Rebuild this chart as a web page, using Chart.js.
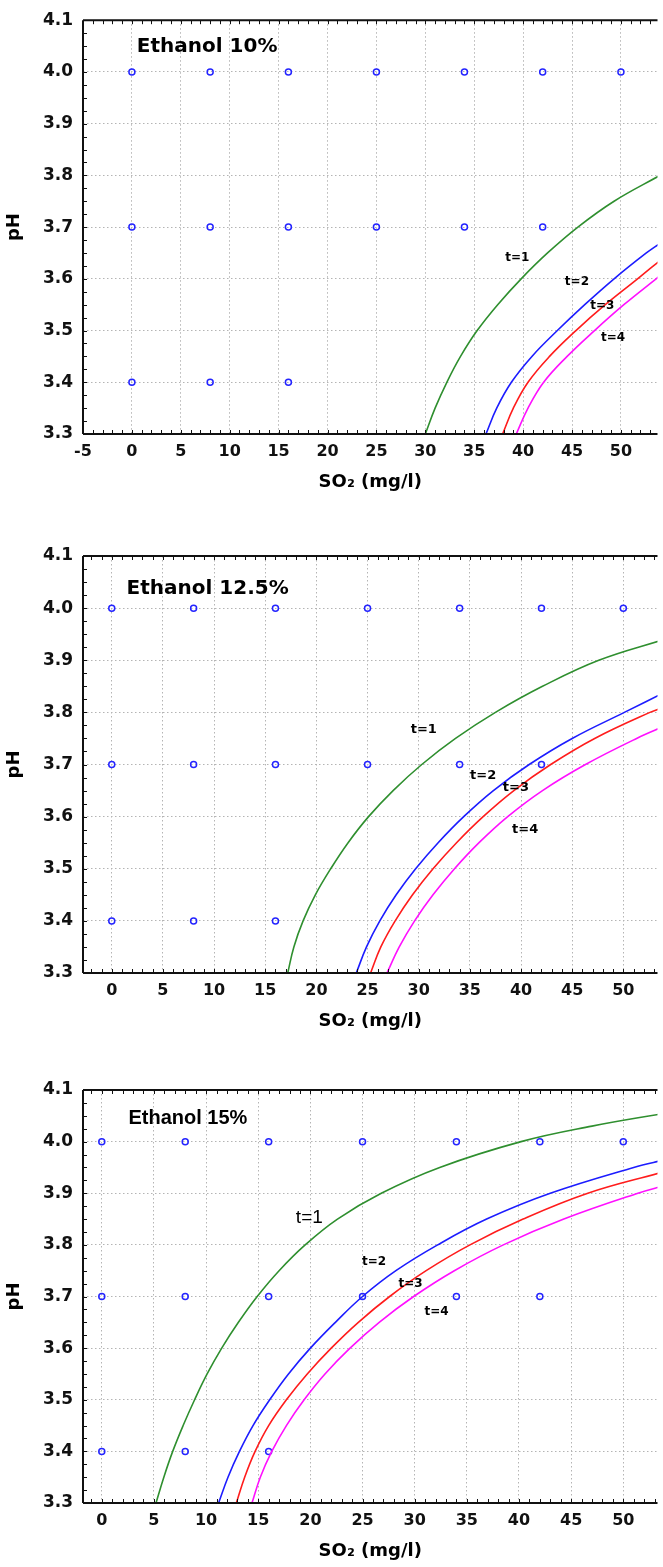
<!DOCTYPE html>
<html>
<head>
<meta charset="utf-8">
<script src="https://cdn.jsdelivr.net/npm/chart.js@4.4.1/dist/chart.umd.min.js"></script>
<style>
  html, body { margin: 0; padding: 0; background: #fff; }
  body { width: 663px; height: 1567px; position: relative; overflow: hidden; }
  canvas { position: absolute; left: 0; }
</style>
</head>
<body>
<canvas id="c10" width="663" height="520" style="top:0px"></canvas>
<canvas id="c125" width="663" height="530" style="top:520px"></canvas>
<canvas id="c15" width="663" height="517" style="top:1050px"></canvas>
<script>
// ---- Data -----------------------------------------------------------------
const PH_TICKS = [3.3, 3.4, 3.5, 3.6, 3.7, 3.8, 3.9, 4.0, 4.1];
const SO2_TICKS_10 = [-5, 0, 5, 10, 15, 20, 25, 30, 35, 40, 45, 50];
const SO2_TICKS = [0, 5, 10, 15, 20, 25, 30, 35, 40, 45, 50];

// experimental design points (same in the three panels)
const DESIGN_SO2 = [0, 8, 16, 25, 34, 42, 50, 0, 8, 16, 25, 34, 42, 0, 8, 16];
const DESIGN_PH = [4.0, 4.0, 4.0, 4.0, 4.0, 4.0, 4.0, 3.7, 3.7, 3.7, 3.7, 3.7, 3.7, 3.4, 3.4, 3.4];

const CURVE_NAMES = ["t=1", "t=2", "t=3", "t=4"];

// Ethanol 10%
const E10_T1_PH = [3.30, 3.35, 3.40, 3.45, 3.50, 3.55, 3.60, 3.65, 3.70, 3.75, 3.80];
const E10_T1_SO2 = [30.0, 31.0, 32.2, 33.6, 35.3, 37.4, 39.8, 42.5, 45.6, 49.3, 54.0];
const E10_T2_PH = [3.30, 3.35, 3.40, 3.45, 3.50, 3.55, 3.60, 3.65, 3.67];
const E10_T2_SO2 = [36.2, 37.3, 38.8, 40.9, 43.5, 46.3, 49.3, 52.6, 54.1];
const E10_T3_PH = [3.30, 3.35, 3.40, 3.45, 3.50, 3.55, 3.60, 3.64];
const E10_T3_SO2 = [37.9, 39.0, 40.5, 42.7, 45.4, 48.4, 51.7, 54.3];
const E10_T4_PH = [3.30, 3.35, 3.40, 3.45, 3.50, 3.55, 3.60, 3.61];
const E10_T4_SO2 = [39.3, 40.5, 42.1, 44.5, 47.3, 50.3, 53.6, 54.3];
const E10_LABEL_SO2 = [39.4, 45.5, 48.1, 49.2];
const E10_LABEL_PH = [3.640, 3.595, 3.547, 3.486];

// Ethanol 12.5%
const E125_T1_PH = [3.30, 3.35, 3.40, 3.45, 3.50, 3.55, 3.60, 3.65, 3.70, 3.75, 3.80, 3.85, 3.90, 3.94];
const E125_T1_SO2 = [17.2, 17.8, 18.7, 19.9, 21.4, 23.1, 25.1, 27.5, 30.3, 33.6, 37.5, 42.1, 47.6, 54.0];
const E125_T2_PH = [3.30, 3.35, 3.40, 3.45, 3.50, 3.55, 3.60, 3.65, 3.70, 3.75, 3.80, 3.84];
const E125_T2_SO2 = [23.9, 24.9, 26.2, 27.8, 29.7, 31.9, 34.4, 37.3, 40.8, 45.0, 50.1, 54.2];
const E125_T3_PH = [3.30, 3.35, 3.40, 3.45, 3.50, 3.55, 3.60, 3.65, 3.70, 3.75, 3.80, 3.81];
const E125_T3_SO2 = [25.3, 26.3, 27.7, 29.4, 31.4, 33.7, 36.3, 39.3, 42.9, 47.2, 52.6, 54.0];
const E125_T4_PH = [3.30, 3.35, 3.40, 3.45, 3.50, 3.55, 3.60, 3.65, 3.70, 3.75, 3.775];
const E125_T4_SO2 = [26.9, 28.1, 29.6, 31.4, 33.5, 35.9, 38.7, 42.1, 46.3, 51.3, 54.2];
const E125_LABEL_SO2 = [30.5, 36.3, 39.5, 40.4];
const E125_LABEL_PH = [3.766, 3.678, 3.655, 3.576];

// Ethanol 15%
const E15_T1_PH = [3.30, 3.35, 3.40, 3.45, 3.50, 3.55, 3.60, 3.65, 3.70, 3.75, 3.80, 3.85, 3.90, 3.95, 4.00, 4.03, 4.055];
const E15_T1_SO2 = [5.2, 5.95, 6.8, 7.8, 8.9, 10.1, 11.5, 13.1, 14.9, 17.0, 19.5, 22.6, 26.8, 32.4, 40.2, 47.0, 54.0];
const E15_T2_PH = [3.30, 3.35, 3.40, 3.45, 3.50, 3.55, 3.60, 3.65, 3.70, 3.75, 3.80, 3.85, 3.90, 3.95, 3.965];
const E15_T2_SO2 = [11.2, 12.1, 13.2, 14.5, 16.1, 17.9, 20.0, 22.4, 25.0, 28.2, 32.2, 36.9, 43.0, 51.0, 54.0];
const E15_T3_PH = [3.30, 3.35, 3.40, 3.45, 3.50, 3.55, 3.60, 3.65, 3.70, 3.75, 3.80, 3.85, 3.90, 3.94];
const E15_T3_SO2 = [12.9, 13.7, 14.7, 16.0, 17.7, 19.7, 22.0, 24.6, 27.6, 31.1, 35.3, 40.4, 46.6, 53.6];
const E15_T4_PH = [3.30, 3.35, 3.40, 3.45, 3.50, 3.55, 3.60, 3.65, 3.70, 3.75, 3.80, 3.85, 3.90, 3.915];
const E15_T4_SO2 = [14.4, 15.2, 16.3, 17.7, 19.4, 21.4, 23.8, 26.6, 29.9, 33.8, 38.5, 44.3, 51.4, 54.0];
const E15_LABEL_SO2 = [19.9, 26.1, 29.6, 32.1];
const E15_LABEL_PH = [3.852, 3.767, 3.725, 3.670];

// ---- Styles ---------------------------------------------------------------
const CURVE_COLORS = ["#2f8f2f", "#1c1cff", "#ff1c1c", "#ff10ff"];
const POINT_COLOR = "#2424ff";
const GRID_COLOR = "#b4b4b4";
const FONT = "'DejaVu Sans', sans-serif";
const FONT_NARROW = "'Liberation Sans', Arial, sans-serif";

const PANELS = [
  {
    id: "c10", height: 520, areaTop: 13, areaBottom: 434, min: -5, max: 53.74,
    ticks: SO2_TICKS_10,
    title: "Ethanol 10%", titleSO2: 0.5, titlePH: 4.049, titleFont: "bold 20px " + FONT,
    curves: [[E10_T1_SO2, E10_T1_PH], [E10_T2_SO2, E10_T2_PH], [E10_T3_SO2, E10_T3_PH], [E10_T4_SO2, E10_T4_PH]],
    labelSO2: E10_LABEL_SO2, labelPH: E10_LABEL_PH,
    labelFonts: ["bold 12px " + FONT, "bold 12px " + FONT, "bold 12px " + FONT, "bold 12px " + FONT],
  },
  {
    id: "c125", height: 530, areaTop: 36, areaBottom: 453, min: -2.81, max: 53.34,
    ticks: SO2_TICKS,
    title: "Ethanol 12.5%", titleSO2: 1.45, titlePH: 4.037, titleFont: "bold 20px " + FONT,
    curves: [[E125_T1_SO2, E125_T1_PH], [E125_T2_SO2, E125_T2_PH], [E125_T3_SO2, E125_T3_PH], [E125_T4_SO2, E125_T4_PH]],
    labelSO2: E125_LABEL_SO2, labelPH: E125_LABEL_PH,
    labelFonts: ["bold 13px " + FONT, "bold 13px " + FONT, "bold 13px " + FONT, "bold 13px " + FONT],
  },
  {
    id: "c15", height: 517, areaTop: 40, areaBottom: 453, min: -1.8, max: 53.28,
    ticks: SO2_TICKS,
    title: "Ethanol 15%", titleSO2: 2.56, titlePH: 4.044, titleFont: "bold 20px " + FONT_NARROW,
    curves: [[E15_T1_SO2, E15_T1_PH], [E15_T2_SO2, E15_T2_PH], [E15_T3_SO2, E15_T3_PH], [E15_T4_SO2, E15_T4_PH]],
    labelSO2: E15_LABEL_SO2, labelPH: E15_LABEL_PH,
    labelFonts: ["19px " + FONT_NARROW, "bold 12px " + FONT, "bold 12px " + FONT, "bold 12px " + FONT],
  },
];

// ---- Plugins --------------------------------------------------------------
// frame (left, bottom, top) with small inward ticks, like the original software
const framePlugin = {
  id: "frame",
  afterDraw(chart) {
    const { ctx, chartArea: a, scales } = chart;
    const xs = scales.x, ys = scales.y;
    ctx.save();
    ctx.strokeStyle = "#111";
    ctx.lineWidth = 1;
    ctx.beginPath();
    for (let v = Math.ceil(xs.min); v <= xs.max; v += 1) {
      const px = Math.round(xs.getPixelForValue(v)) + 0.5;
      ctx.moveTo(px, a.bottom); ctx.lineTo(px, a.bottom - 4);
      ctx.moveTo(px, a.top); ctx.lineTo(px, a.top + 4);
    }
    for (let i = 0; i <= 32; i++) {
      const py = Math.round(ys.getPixelForValue(ys.min + i * 0.025)) + 0.5;
      ctx.moveTo(a.left, py); ctx.lineTo(a.left + 4, py);
    }
    ctx.stroke();
    ctx.lineWidth = 2;
    ctx.beginPath();
    ctx.moveTo(a.left, a.top); ctx.lineTo(a.right, a.top);
    ctx.moveTo(a.left, a.top); ctx.lineTo(a.left, a.bottom);
    ctx.moveTo(a.left, a.bottom); ctx.lineTo(a.right, a.bottom);
    ctx.stroke();
    ctx.restore();
  },
};

// curve labels t=1..t=4 and the panel title
const textPlugin = {
  id: "panelText",
  afterDatasetsDraw(chart, args, opts) {
    const p = opts.panel;
    if (!p) return;
    const { ctx, scales } = chart;
    ctx.save();
    ctx.fillStyle = "#000";
    ctx.textBaseline = "middle";
    ctx.textAlign = "left";
    ctx.font = p.titleFont;
    ctx.fillText(p.title, scales.x.getPixelForValue(p.titleSO2), scales.y.getPixelForValue(p.titlePH));
    ctx.textAlign = "center";
    CURVE_NAMES.forEach((name, i) => {
      ctx.font = p.labelFonts[i];
      ctx.fillText(name, scales.x.getPixelForValue(p.labelSO2[i]), scales.y.getPixelForValue(p.labelPH[i]));
    });
    ctx.restore();
  },
};

// ---- Build ----------------------------------------------------------------
function makePanel(p) {
  const titleLine = 18 * 1.2;
  const padBottom = p.height - p.areaBottom - 48 - titleLine / 2;

  const datasets = p.curves.map(([so2, ph], i) => ({
    label: CURVE_NAMES[i],
    data: so2.map((x, k) => ({ x, y: ph[k] })),
    showLine: true,
    borderColor: CURVE_COLORS[i],
    borderWidth: 1.6,
    pointRadius: 0,
    tension: 0.4,
    fill: false,
  }));
  datasets.push({
    label: "design",
    data: DESIGN_SO2.map((x, k) => ({ x, y: DESIGN_PH[k] })),
    showLine: false,
    pointRadius: 3,
    pointBorderWidth: 1.5,
    pointBorderColor: POINT_COLOR,
    pointBackgroundColor: "rgba(255,255,255,0)",
  });

  return new Chart(document.getElementById(p.id), {
    type: "scatter",
    data: { datasets },
    plugins: [framePlugin, textPlugin],
    options: {
      responsive: false,
      animation: false,
      devicePixelRatio: 1,
      layout: { padding: { top: p.areaTop, left: 0, right: 0, bottom: 0 } },
      plugins: {
        legend: { display: false },
        tooltip: { enabled: false },
        panelText: { panel: p },
      },
      scales: {
        x: {
          type: "linear",
          min: p.min,
          max: p.max,
          afterFit: (s) => { s.height = p.height - p.areaBottom; },
          afterBuildTicks: (s) => { s.ticks = p.ticks.map((v) => ({ value: v })); },
          ticks: {
            callback: (v) => String(v),
            font: { family: FONT, size: 16, weight: "bold" },
            color: "#111",
            padding: 8,
            maxRotation: 0,
            autoSkip: false,
          },
          grid: { color: GRID_COLOR, lineWidth: 1, drawTicks: false },
          border: { display: false, dash: [1.5, 2.5] },
          title: {
            display: true,
            text: "SO₂ (mg/l)",
            color: "#000",
            font: { family: FONT, size: 18, weight: "bold" },
            padding: { top: 0, bottom: padBottom },
          },
        },
        y: {
          type: "linear",
          min: 3.3,
          max: 4.1,
          afterFit: (s) => { s.width = 83; },
          afterBuildTicks: (s) => { s.ticks = PH_TICKS.map((v) => ({ value: v })); },
          ticks: {
            callback: (v) => v.toFixed(1),
            font: { family: FONT, size: 17, weight: "bold" },
            color: "#111",
            padding: 10,
          },
          grid: { color: GRID_COLOR, lineWidth: 1, drawTicks: false },
          border: { display: false, dash: [1.5, 2.5] },
          title: {
            display: true,
            text: "pH",
            color: "#000",
            font: { family: FONT, size: 18, weight: "bold" },
            padding: { top: 4, bottom: 0 },
          },
        },
      },
    },
  });
}

PANELS.forEach(makePanel);
</script>
</body>
</html>
